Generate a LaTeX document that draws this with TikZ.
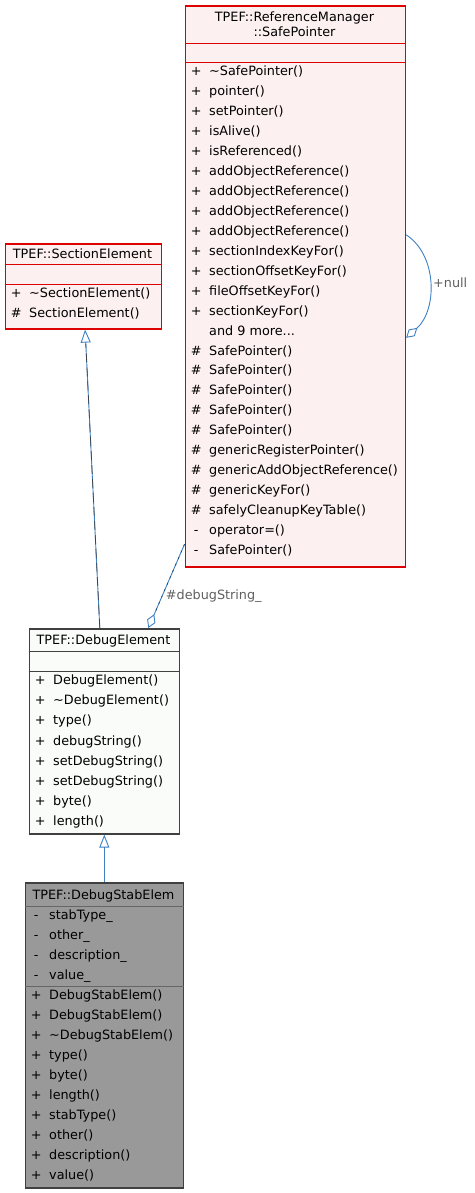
\documentclass[tikz,border=0pt]{standalone}
\usepackage{fontspec}
\setmainfont{DejaVu Sans}
\usetikzlibrary{arrows.meta}
\definecolor{spfill}{HTML}{FCF0F0}
\definecolor{spdraw}{HTML}{DD0000}
\definecolor{defill}{HTML}{FAFCFA}
\definecolor{dedraw}{HTML}{404040}
\definecolor{dsefill}{HTML}{999999}
\definecolor{sepgray}{HTML}{666666}
\definecolor{edgeblue}{HTML}{3D80C4}
\definecolor{labelgray}{HTML}{606060}
\tikzset{
  classbox/.style={rectangle, inner sep=0pt, anchor=north west, line width=1.6pt},
  pinkbox/.style={classbox, draw=spdraw, fill=spfill},
  whitebox/.style={classbox, draw=dedraw, fill=defill},
  graybox/.style={classbox, draw=dedraw, fill=dsefill},
  pinksep/.style={draw=spdraw, line width=1pt},
  whitesep/.style={draw=dedraw, line width=1pt},
  graysep/.style={draw=sepgray, line width=1pt},
  rowtext/.style={anchor=base west, inner sep=0pt, font=\fontsize{12.8pt}{15pt}\selectfont},
  titletext/.style={anchor=base, inner sep=0pt, font=\fontsize{12.8pt}{15pt}\selectfont},
  edgelabel/.style={anchor=west, inner sep=0pt, text=labelgray, font=\fontsize{12.8pt}{15pt}\selectfont},
  linkline/.style={draw=edgeblue, line width=0.9pt},
  dashover/.style={draw=black!75, line width=0.7pt, dash pattern=on 9pt off 5pt},
  dotover/.style={draw=edgeblue!50!black, line width=0.7pt, dash pattern=on 2pt off 5pt},
  inharrow/.style={-{Triangle[open, length=13pt, width=10pt, line width=0.9pt]}},
  comparrow/.style={-{Diamond[open, length=15pt, width=9pt, line width=0.9pt]}},
}
\begin{document}
\begin{tikzpicture}[x=1pt, y=-1pt]
\useasboundingbox (0,0) rectangle (474,1193);

% ---- TPEF::ReferenceManager::SafePointer
\node[pinkbox, minimum width=220pt, minimum height=561pt] (sp) at (184.5,5) {};
\draw[pinksep] (sp.west |- 0,43.5) -- (sp.east |- 0,43.5);
\draw[pinksep] (sp.west |- 0,62.5) -- (sp.east |- 0,62.5);
\node[titletext] (sp-t1) at (294.5,21.4) {TPEF::ReferenceManager};
\node[titletext] (sp-t2) at (294.5,36.3) {::SafePointer};
\foreach \s/\t [count=\i] in {
  +/\textasciitilde SafePointer(), +/pointer(), +/setPointer(), +/isAlive(), +/isReferenced(),
  +/addObjectReference(), +/addObjectReference(), +/addObjectReference(), +/addObjectReference(),
  +/sectionIndexKeyFor(), +/sectionOffsetKeyFor(), +/fileOffsetKeyFor(), +/sectionKeyFor(),
  {}/and 9 more.{}.{}., \#/SafePointer(), \#/SafePointer(), \#/SafePointer(), \#/SafePointer(),
  \#/SafePointer(), \#/genericRegisterPointer(), \#/genericAddObjectReference(),
  \#/genericKeyFor(), \#/safelyCleanupKeyTable(), -/operator=(), -/SafePointer()}
  \node[rowtext] (sp-r\i) at (189.5,{75.7+19.95*(\i-1)}) {\makebox[13pt]{\s}\hspace{6.5pt}\t};

% ---- TPEF::SectionElement
\node[pinkbox, minimum width=156pt, minimum height=85pt] (se) at (4.5,243) {};
\draw[pinksep] (se.west |- 0,264.5) -- (se.east |- 0,264.5);
\draw[pinksep] (se.west |- 0,284.5) -- (se.east |- 0,284.5);
\node[titletext] (se-t) at (82.5,258.7) {TPEF::SectionElement};
\node[rowtext] (se-r1) at (9.5,297.3) {\makebox[13pt]{+}\hspace{6.5pt}\textasciitilde SectionElement()};
\node[rowtext] (se-r2) at (9.5,317.1) {\makebox[13pt]{\#}\hspace{6.5pt}SectionElement()};

% ---- TPEF::DebugElement
\node[whitebox, minimum width=150pt, minimum height=205pt] (de) at (28.5,628) {};
\draw[whitesep] (de.west |- 0,651.5) -- (de.east |- 0,651.5);
\draw[whitesep] (de.west |- 0,671.5) -- (de.east |- 0,671.5);
\node[titletext] (de-t) at (103.5,644) {TPEF::DebugElement};
\foreach \t [count=\i] in {DebugElement(), \textasciitilde DebugElement(), type(), debugString(),
  setDebugString(), setDebugString(), byte(), length()}
  \node[rowtext] (de-r\i) at (33.5,{684.7+20.1*(\i-1)}) {\makebox[13pt]{+}\hspace{6.5pt}\t};

% ---- TPEF::DebugStabElem
\node[graybox, minimum width=158pt, minimum height=305pt] (dse) at (24.5,882) {};
\draw[graysep] (dse.west |- 0,906.5) -- (dse.east |- 0,906.5);
\draw[graysep] (dse.west |- 0,986.5) -- (dse.east |- 0,986.5);
\node[titletext] (dse-t) at (103.5,899.7) {TPEF::DebugStabElem};
\foreach \t [count=\i] in {stabType\_, other\_, description\_, value\_}
  \node[rowtext] (dse-a\i) at (29.5,{919+20*(\i-1)}) {\makebox[13pt]{-}\hspace{6.5pt}\t};
\foreach \t [count=\i] in {DebugStabElem(), DebugStabElem(), \textasciitilde DebugStabElem(),
  type(), byte(), length(), stabType(), other(), description(), value()}
  \node[rowtext] (dse-m\i) at (29.5,{999+20*(\i-1)}) {\makebox[13pt]{+}\hspace{6.5pt}\t};

% ---- connectors
\draw[linkline, line width=1.3pt, inharrow] (dse.north) -- (dse.north |- de.south);

\draw[linkline, inharrow] ([xshift=-4.5pt]de.north) -- ([xshift=1.8pt]se.south);
\draw[dashover, shorten >=14pt] ([xshift=-4.5pt]de.north) -- ([xshift=1.8pt]se.south);

\draw[linkline, comparrow] ([yshift=23.3pt]sp.south west) -- ([xshift=119.8pt]de.north west);
\draw[dotover, shorten >=16pt] ([yshift=23.3pt]sp.south west) -- ([xshift=119.8pt]de.north west);
\node[edgelabel] (lbl-debug) at (165.7,596) {\#debugString\_};

\draw[linkline, comparrow] ([yshift=51.5pt]sp.east) .. controls (437.5,255) and (437.5,310) .. ([yshift=-51.5pt]sp.east);
\node[edgelabel] (lbl-null) at (433,283) {+null};
\end{tikzpicture}
\end{document}
